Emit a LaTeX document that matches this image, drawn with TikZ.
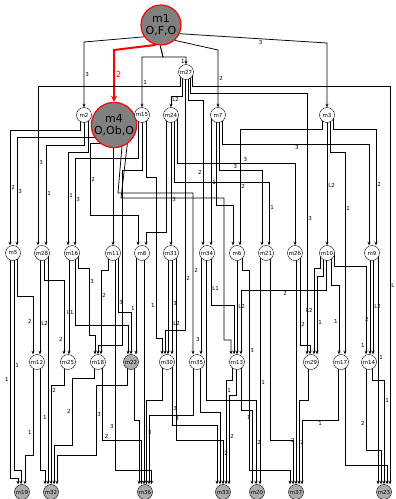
\documentclass[tikz,border=0pt]{standalone}
\usepackage{fontspec}
\setmainfont{DejaVu Sans}
\usetikzlibrary{arrows.meta}
\pgfdeclarelayer{bg}
\pgfsetlayers{bg,main}
\tikzset{
  mnode/.style={circle,draw,fill=white,inner sep=0pt,minimum size=15pt,font=\fontsize{5.5}{6}\selectfont},
  sink/.style={mnode,fill=gray!65},
  big/.style={circle,draw=red,line width=1.2pt,fill=gray,inner sep=0pt,minimum size=40pt,align=center,font=\fontsize{11}{12}\selectfont},
  conn/.style={line width=0.75pt,-{Stealth[length=3.5pt,width=3pt]}},
  lab/.style={font=\fontsize{5.5}{5.5}\selectfont,inner sep=1pt},
}
\begin{document}
\begin{tikzpicture}[x=1pt,y=-1pt]
\useasboundingbox (0,0) rectangle (396,499);
\node[big] (m1) at (161,25) {m1\\O,F,O};
\node[big] (m4) at (114,125) {m4\\O,Ob,O};
\node[mnode] (m27) at (186,72) {m27};
\foreach \n/\x in {m2/84,m15/142,m24/171,m7/218,m3/327}
  \node[mnode] (\n) at (\x,115) {\n};
\foreach \n/\x in {m5/13,m28/42,m16/72,m11/113,m8/142,m31/171,m34/207,m6/237,m21/266,m26/295,m10/327,m9/372}
  \node[mnode] (\n) at (\x,253) {\n};
\foreach \n/\x in {m12/37,m25/68,m18/98,m30/167,m35/197,m13/237,m29/311,m17/341,m14/369}
  \node[mnode] (\n) at (\x,362) {\n};
\node[sink] (m22) at (131,362) {m22};
\foreach \n/\x in {m19/22,m32/51,m36/145,m33/223,m20/257,m37/296,m23/384}
  \node[sink] (\n) at (\x,492) {\n};

\begin{pgfonlayer}{bg}
\draw[conn] (m1.215) -- (84,42) -- (m2.north) node[lab,pos=0.5,right]{3};
\draw[conn,red,line width=2pt,-{Stealth[length=6pt,width=6pt]}] (m1.255) -- (114,50) -- (m4.north)
  node[lab,pos=0.47,right,font=\fontsize{8}{8}\selectfont]{2};
\draw[conn] (m1.268) -- (163,57) -| (m15.north) node[lab,pos=0.75,right]{1};
\draw[conn] (m1.268) -- (163,57) -| (m27.north) node[lab,pos=0.8,left]{1};
\draw[conn] (m1.-48) -- (218,50) -- (m7.north) node[lab,pos=0.5,right]{2};
\draw[conn] (m1.-25) -- (327,43) node[lab,pos=0.55,below]{3} -- (m3.north);

\draw[conn] (m27 -| 180,0) |- (38,86) -- (m28.north -| 38,0) node[lab,pos=0.48,right]{3};
\draw[conn] (m27 -| 182,0) |- (171,96) -- (m24.north) node[lab,pos=0.3,right]{L2};
\draw[conn] (m27 -| 185,0) |- (165,330) node[lab,pos=0.4,right]{2} -- (m30.north -| 165,0);
\draw[conn] (m27 -| 188,0) |- (203,100) -- (m34.north -| 203,0) node[lab,pos=0.5,left]{2};
\draw[conn] (m27 -| 190,0) |- (307,93) -- (m29.north -| 307,0) node[lab,pos=0.48,right]{3};
\draw[conn] (m27 -| 192,0) |- (390,86) -- (m23.north -| 390,0) node[lab,pos=0.5,right]{L};

\draw[conn] (m2 -| 80,0) |- (10,130) -- (m5.north -| 10,0) node[lab,pos=0.5,right]{2};
\draw[conn] (m2 -| 84,0) |- (46,145) -- (m28.north -| 46,0) node[lab,pos=0.48,right]{1};
\draw[conn] (m2 -| 88,0) |- (68,152) -- (m16.north -| 68,0) node[lab,pos=0.47,right]{1};

\draw[conn] (m4 -| 100,0) |- (17,137) -- (m5.north -| 17,0) node[lab,pos=0.5,right]{3};
\draw[conn] (m4 -| 113,0) -- (m11.north -| 113,0);
\draw[conn] (m4 -| 106,0) |- (90,143) |- (138,215) node[lab,pos=0.25,right]{2} -- (m8.north -| 138,0);
\draw[conn] (m4.290) -- (118,193) -| (m35.north -| 193,0) node[lab,pos=0.74,right]{2};
\draw[conn] (m4.305) -- (121,198) -| (224,340) -| (m13.north -| 231,0);

\draw[conn] (m15 -| 138,0) |- (75,158) -- (m16.north -| 75,0) node[lab,pos=0.48,right]{3};
\draw[conn] (m15 -| 142,0) |- (122,170) |- (98,345) -- (m18.north -| 98,0);
\draw[conn] (m15 -| 146,0) |- (156,177) |- (162,338) node[lab,pos=0.4,left]{1} -- (m30.north -| 162,0);

\draw[conn] (m24 -| 166,0) |- (146,232) -- (m8.north -| 146,0);
\draw[conn] (m24 -| 171,0) -- (m31.north -| 171,0) node[lab,pos=0.65,right]{3};
\draw[conn] (m24 -| 174,0) |- (269,182) -- (m21.north -| 269,0) node[lab,pos=0.41,right]{1};
\draw[conn] (m24 -| 177,0) |- (295,163) node[lab,pos=0.79,above]{3} -- (m26.north -| 295,0);

\draw[conn] (m7 -| 211,0) -- (m34.north -| 211,0) node[lab,pos=0.52,right]{1};
\draw[conn] (m7 -| 216,0) |- (233,205) -- (m6.north -| 233,0);
\draw[conn] (m7 -| 219,0) |- (262,170) node[lab,pos=0.69,above]{3} -- (m21.north -| 262,0);
\draw[conn] (m7 -| 222,0) |- (369,144) node[lab,pos=0.755,below]{3} -- (m9.north -| 369,0);

\draw[conn] (m3 -| 322,0) |- (240,129) -- (m6.north -| 240,0) node[lab,pos=0.49,right]{2};
\draw[conn] (m3 -| 327,0) -- (m10.north -| 327,0) node[lab,pos=0.54,right]{L2};
\draw[conn] (m3 -| 330,0) |- (345,152) -- (m17.north -| 345,0) node[lab,pos=0.28,right]{1};
\draw[conn] (m3 -| 333,0) |- (376,129) -- (m9.north -| 376,0) node[lab,pos=0.48,right]{2};

\draw[conn] (m5 -| 10,0) |- (18,478) node[lab,pos=0.28,left]{1} -- (m19.north -| 18,0);
\draw[conn] (m5 -| 14,0) |- (21,470) node[lab,pos=0.26,right]{1} -- (m19.north -| 21,0);
\draw[conn] (m5 -| 17,0) |- (33,296) -- (m12.north -| 33,0) node[lab,pos=0.44,left]{2};

\draw[conn] (m28 -| 40,0) -- (m12.north -| 40,0) node[lab,pos=0.7,right]{L2};
\draw[conn] (m28 -| 44,0) |- (64,280) -- (m25.north -| 64,0) node[lab,pos=0.8,left]{2};
\draw[conn] (m28 -| 48,0) -- (m32.north -| 48,0) node[lab,pos=0.71,left]{1};

\draw[conn] (m16 -| 69,0) -- (m25.north -| 69,0);
\draw[conn] (m16 -| 75,0) |- (128,325) node[lab,pos=0.41,left]{L1} -- (m22.north -| 128,0);
\draw[conn] (m16 -| 78,0) |- (89,268) |- (95,335) node[lab,pos=0.1,right]{3} -- (m18.north -| 95,0);

\draw[conn] (m11 -| 108,0) |- (101,270) -- (m18.north -| 101,0) node[lab,pos=0.3,right]{2};
\draw[conn] (m11 -| 118,0) |- (131,312) node[lab,pos=0.42,right]{3} -- (m22.north -| 131,0);
\draw[conn] (m11 -| 115,0) |- (151.5,470) node[lab,pos=0.4,left]{3} -- (m36.north -| 151.5,0);

\draw[conn] (m8 -| 136,0) -- (m22.north -| 136,0) node[lab,pos=0.55,left]{1};
\draw[conn] (m8 -| 144,0) -- (m36.north -| 144,0);

\draw[conn] (m31 -| 168,0) -- (m30.north -| 168,0) node[lab,pos=0.7,right,xshift=4pt]{L2};
\draw[conn] (m31 -| 172,0) -- (m30.north -| 172,0) node[lab,pos=0.5,right]{3};
\draw[conn] (m31 -| 176,0) |- (223,440) -- (m33.north -| 223,0) node[lab,pos=0.3,right]{2};

\draw[conn] (m34 -| 201,0) -- (m35.north -| 201,0) node[lab,pos=0.85,left]{3};
\draw[conn] (m34 -| 206,0) |- (256,400) -- (m20.north -| 256,0) node[lab,pos=0.5,right]{2};
\draw[conn] (m34 -| 211,0) |- (234,305) node[lab,pos=0.34,right]{L1} -- (m13.north -| 234,0);

\draw[conn] (m6 -| 237,0) -- (m13.north -| 237,0) node[lab,pos=0.53,right]{L2};
\draw[conn] (m6 -| 242,0) |- (249,270) |- (290,470) node[lab,pos=0.2,right]{3} -- (m37.north -| 290,0);

\draw[conn] (m21 -| 260,0) -- (m20.north -| 260,0) node[lab,pos=0.56,right]{1};
\draw[conn] (m21 -| 270,0) |- (293,440) -- (m37.north -| 293,0);

\draw[conn] (m26 -| 296,0) -- (m37.north -| 296,0) node[lab,pos=0.81,left]{2};
\draw[conn] (m26 -| 300,0) |- (310,345) node[lab,pos=0.39,right]{2} -- (m29.north -| 310,0);

\draw[conn] (m10 -| 320,0) |- (314,268) -- (m29.north -| 314,0) node[lab,pos=0.49,left]{L2};
\draw[conn] (m10 -| 323,0) |- (317,276) -- (m29.north -| 317,0) node[lab,pos=0.59,right]{1};
\draw[conn] (m10 -| 326,0) |- (241,290) node[lab,pos=0.74,below]{2} -- (m13.north -| 241,0);
\draw[conn] (m10 -| 331,0) |- (339,285) -- (m17.north -| 339,0) node[lab,pos=0.53,left]{1};
\draw[conn] (m10 -| 334,0) |- (366,266) -- (m14.north -| 366,0) node[lab,pos=0.9,left]{1};

\draw[conn] (m9 -| 370,0) -- (m14.north -| 370,0) node[lab,pos=0.66,left]{2};
\draw[conn] (m9 -| 373,0) -- (m14.north -| 373,0) node[lab,pos=0.53,right]{L2};
\draw[conn] (m9 -| 378,0) -- (m23.north -| 378,0) node[lab,pos=0.45,right]{1};

\draw[conn] (m12 -| 33,0) |- (25,455) node[lab,pos=0.38,left]{1} -- (m19.north -| 25,0);
\draw[conn] (m12 -| 40,0) |- (45,470) -- (m32.north -| 45,0);
\draw[conn] (m25 -| 64,0) |- (51,385) -- (m32.north -| 51,0) node[lab,pos=0.05,right]{2};
\draw[conn] (m18 -| 94,0) |- (72,378) |- (54,445) node[lab,pos=0.25,left]{2} -- (m32.north -| 54,0);
\draw[conn] (m18 -| 102,0) |- (141.5,440) node[lab,pos=0.56,above]{2} -- (m36.north -| 141.5,0);
\draw[conn] (m22 -| 127,0) |- (96,385) |- (57,455) node[lab,pos=0.21,right]{3} -- (m32.north -| 57,0);
\draw[conn] (m22 -| 134,0) |- (139,420) -- (m36.north -| 139,0);
\draw[conn] (m30 -| 162,0) |- (146.5,400) -- (m36.north -| 146.5,0) node[lab,pos=0.38,right]{3};
\draw[conn] (m30 -| 172,0) |- (217,425) node[lab,pos=0.37,right]{3} -- (m33.north -| 217,0);
\draw[conn] (m35 -| 193,0) |- (149,415) node[lab,pos=0.68,below]{3} -- (m36.north -| 149,0);
\draw[conn] (m35 -| 200,0) |- (220,412) -- (m33.north -| 220,0);
\draw[conn] (m13 -| 232,0) |- (226,380) -- (m33.north -| 226,0) node[lab,pos=0.1,right]{1};
\draw[conn] (m13 -| 236,0) |- (229,395) -- (m33.north -| 229,0) node[lab,pos=0.46,right]{2};
\draw[conn] (m13 -| 241,0) |- (252,410) -- (m20.north -| 252,0) node[lab,pos=0.1,left]{1};
\draw[conn] (m29 -| 308,0) |- (299,400) -- (m37.north -| 299,0) node[lab,pos=0.5,right]{2};
\draw[conn] (m17 -| 338,0) |- (302,420) node[lab,pos=0.75,below]{1} -- (m37.north -| 302,0);
\draw[conn] (m17 -| 345,0) |- (387,465) -- (m23.north -| 387,0);
\draw[conn] (m14 -| 366,0) |- (381,450) node[lab,pos=0.35,left]{2} -- (m23.north -| 381,0);
\draw[conn] (m14 -| 372,0) |- (384,380) -- (m23.north -| 384,0) node[lab,pos=0.2,right]{1};
\end{pgfonlayer}
\end{tikzpicture}
\end{document}
